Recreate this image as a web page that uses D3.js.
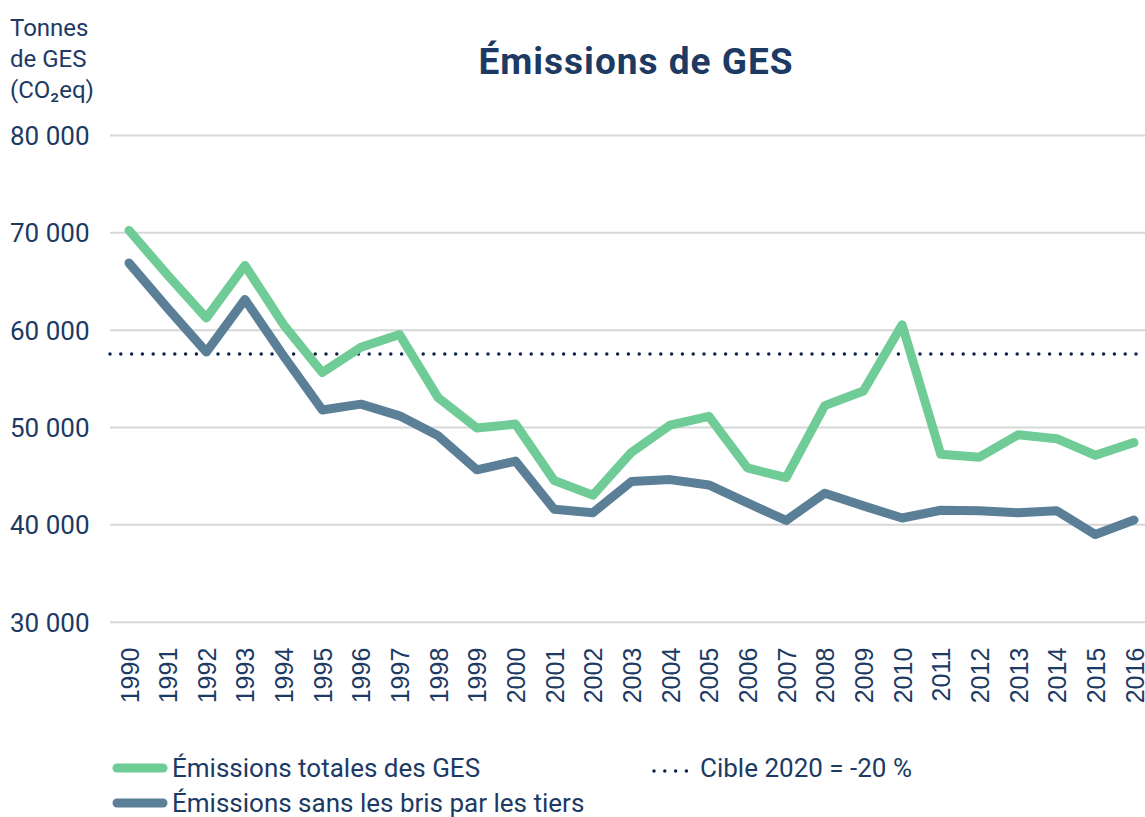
<!DOCTYPE html>
<html>
<head>
<meta charset="utf-8">
<script src="https://cdn.jsdelivr.net/npm/d3@7"></script>
<style>
  body { margin: 0; background: #fff; }
  text { font-family: Roboto, "Noto Sans", sans-serif; fill: #1c3a63; }
</style>
</head>
<body>
<div id="chart"></div>
<script>
// years on the x axis
const years = d3.range(1990, 2017).map(String);

// total emissions (t CO2eq)
const totalEmissions = [70200, 65600, 61200, 66600, 60500, 55600, 58200, 59500, 53000, 49900,
  50300, 44500, 43000, 47400, 50200, 51100, 45800, 44800, 52200, 53700,
  60500, 47200, 46900, 49200, 48800, 47100, 48400];

// emissions without third-party damages
const withoutThirdParty = [66850, 62200, 57700, 63100, 57300, 51750, 52350, 51150, 49100, 45600,
  46500, 41550, 41200, 44400, 44600, 44050, 42200, 40400, 43200, 41900,
  40650, 41450, 41400, 41200, 41400, 38950, 40450];

const target2020 = 57500;
const yTicks = [30000, 40000, 50000, 60000, 70000, 80000];

const width = 1145, height = 817;
const margin = { left: 110, right: 10, top: 135, bottom: 196 };

const svg = d3.select("#chart").append("svg")
  .attr("width", width)
  .attr("height", height);

const x = d3.scalePoint()
  .domain(years)
  .range([129, 1134]);

const y = d3.scaleLinear()
  .domain([30000, 80000])
  .range([height - margin.bottom + 0.7, margin.top]);

const fr = d3.formatLocale({ decimal: ",", thousands: "\u00a0", grouping: [3], currency: ["", " €"] });
const fmt = fr.format(",d");

// gridlines + y labels
const yAxis = svg.append("g")
  .attr("transform", `translate(${margin.left},0)`)
  .call(d3.axisRight(y).tickValues(yTicks).tickSize(width - margin.left).tickFormat(fmt));
yAxis.select(".domain").remove();
yAxis.selectAll(".tick line").attr("stroke", "#d6d8d8").attr("stroke-width", 2);
yAxis.selectAll(".tick text")
  .attr("x", -100)
  .attr("text-anchor", "start")
  .attr("dy", "0.36em")
  .style("font-size", "26px")
  .style("fill", "#1c3a63");

// x labels, rotated
const xAxis = svg.append("g")
  .attr("transform", `translate(0,${height - margin.bottom + 0.7})`)
  .call(d3.axisBottom(x).tickSize(0));
xAxis.select(".domain").remove();
xAxis.selectAll(".tick text")
  .attr("transform", "rotate(-90)")
  .attr("x", -26)
  .attr("y", 0)
  .attr("dy", "0.36em")
  .attr("text-anchor", "end")
  .style("font-family", "'Liberation Sans', Arial, sans-serif")
  .style("font-size", "25px")
  .style("fill", "#1c3a63");

// target line
svg.append("line")
  .attr("x1", margin.left).attr("x2", width)
  .attr("y1", y(target2020)).attr("y2", y(target2020))
  .attr("stroke", "#0d2347")
  .attr("stroke-width", 3.5)
  .attr("stroke-linecap", "round")
  .attr("stroke-dasharray", "0 10.8");

const line = d3.line()
  .x((d, i) => x(years[i]))
  .y(d => y(d));

svg.append("path")
  .datum(withoutThirdParty)
  .attr("d", line)
  .attr("fill", "none")
  .attr("stroke", "#5b7f97")
  .attr("stroke-width", 9)
  .attr("stroke-linejoin", "round")
  .attr("stroke-linecap", "round");

svg.append("path")
  .datum(totalEmissions)
  .attr("d", line)
  .attr("fill", "none")
  .attr("stroke", "#70cc97")
  .attr("stroke-width", 9)
  .attr("stroke-linejoin", "round")
  .attr("stroke-linecap", "round");

// title
svg.append("text")
  .attr("x", 636).attr("y", 74)
  .attr("text-anchor", "middle")
  .style("font-size", "37px")
  .style("font-weight", "bold")
  .style("letter-spacing", "1px")
  .style("fill", "#1c3a63")
  .text("Émissions de GES");

// y axis title
const yTitle = ["Tonnes", "de GES", "(CO₂eq)"];
svg.append("text")
  .attr("x", 10).attr("y", 36)
  .style("font-size", "24px")
  .selectAll("tspan")
  .data(yTitle)
  .join("tspan")
  .attr("x", 10)
  .attr("dy", (d, i) => i === 0 ? 0 : 31)
  .text(d => d);

// legend
const legend = svg.append("g");
const items = [
  { label: "Émissions totales des GES", color: "#70cc97", x: 113, y: 768, dotted: false },
  { label: "Émissions sans les bris par les tiers", color: "#5b7f97", x: 113, y: 803, dotted: false },
  { label: "Cible 2020 = -20 %", color: "#0d2347", x: 654, y: 768, dotted: true }
];
items.forEach(it => {
  if (it.dotted) {
    legend.append("line")
      .attr("x1", it.x).attr("x2", it.x + 33)
      .attr("y1", it.y + 3).attr("y2", it.y + 3)
      .attr("stroke", it.color).attr("stroke-width", 3.5)
      .attr("stroke-linecap", "round")
      .attr("stroke-dasharray", "0 10.8");
  } else {
    legend.append("line")
      .attr("x1", it.x + 4).attr("x2", it.x + 50)
      .attr("y1", it.y).attr("y2", it.y)
      .attr("stroke", it.color).attr("stroke-width", 9)
      .attr("stroke-linecap", "round");
  }
  legend.append("text")
    .attr("x", it.dotted ? it.x + 46 : it.x + 59)
    .attr("y", it.y + 9)
    .style("font-size", "26px")
    .text(it.label);
});
</script>
</body>
</html>
